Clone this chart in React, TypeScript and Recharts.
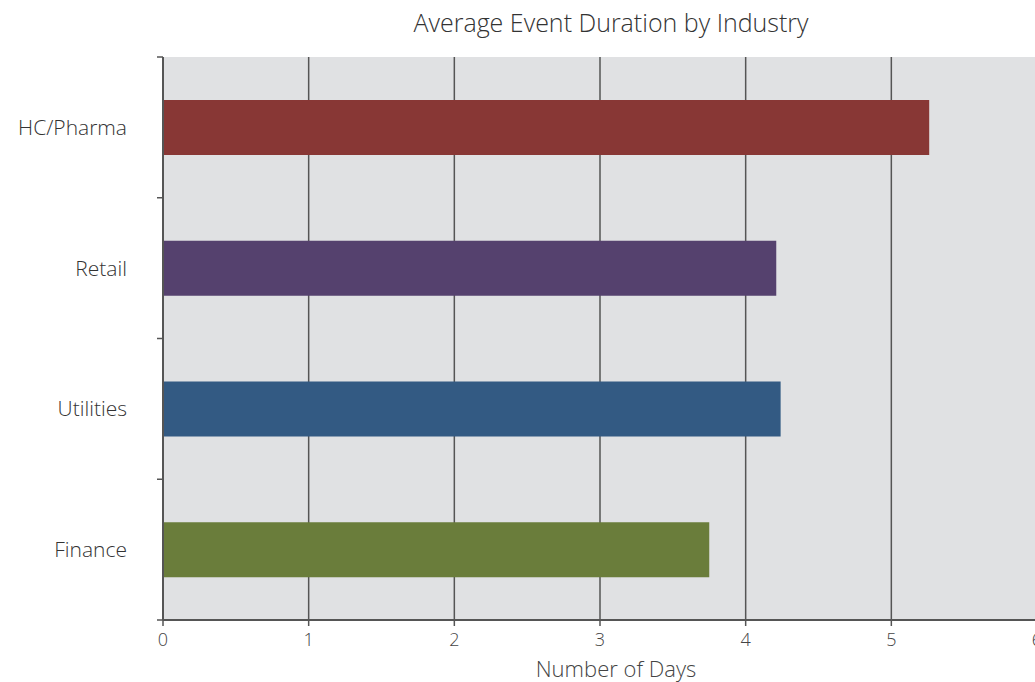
import React from "react";
import { BarChart, Bar, XAxis, YAxis, CartesianGrid, Cell, Label } from "recharts";

const industries = ["HC/Pharma", "Retail", "Utilities", "Finance"];
const days = [5.26, 4.21, 4.24, 3.75];
const barColors = ["#883735", "#55416e", "#335a83", "#6a7d3b"];
const xTicks = [0, 1, 2, 3, 4, 5, 6];
const boundaryTicks = [0, 1, 2, 3, 4];

const data = industries.map((name, i) => ({ name, days: days[i] }));

const FONT = "'Open Sans', 'Noto Sans', sans-serif";
const AXIS = "#555";

const XTick = (props: any) => {
  const { x, y, payload } = props;
  return (
    <text
      x={x}
      y={y}
      dy={16}
      textAnchor="middle"
      fill="#444"
      fontSize={18}
      fontWeight={300}
      fontFamily={FONT}
    >
      {payload.value}
    </text>
  );
};

const categoryIndex = (d: any) => industries.indexOf(d.name) + 0.5;

export default function App() {
  return (
    <div
      style={{
        position: "fixed",
        left: 0,
        top: 0,
        width: 1035,
        height: 682,
        overflow: "hidden",
        background: "#fff",
        fontFamily: FONT,
      }}
    >
      <div
        style={{
          position: "absolute",
          left: 0,
          width: 1222,
          top: 5,
          textAlign: "center",
          fontSize: 25,
          fontWeight: 300,
          color: "#333",
          fontFamily: FONT,
        }}
      >
        Average Event Duration by Industry
      </div>
      <BarChart
        width={1100}
        height={682}
        data={data}
        layout="vertical"
        margin={{ top: 57, right: 63, bottom: 0, left: 0 }}
        barSize={55}
      >
        <CartesianGrid
          horizontal={false}
          fill="#e0e1e3"
          fillOpacity={1}
          stroke={AXIS}
          strokeWidth={1.5}
        />
        <XAxis
          type="number"
          domain={[0, 6]}
          ticks={xTicks}
          interval={0}
          height={62}
          tickSize={6}
          axisLine={{ stroke: AXIS, strokeWidth: 2 }}
          tickLine={{ stroke: AXIS, strokeWidth: 1.5 }}
          tick={<XTick />}
          tickMargin={4}
        >
          <Label
            value="Number of Days"
            position="insideBottom"
            offset={5}
            dx={16}
            style={{ fill: "#444", fontSize: 22, fontFamily: FONT, fontWeight: 300 }}
          />
        </XAxis>
        <XAxis
          xAxisId="top"
          orientation="top"
          type="number"
          domain={[0, 6]}
          height={0}
          tick={false}
          tickLine={false}
          axisLine={{ stroke: AXIS, strokeWidth: 2 }}
        />
        <YAxis
          type="number"
          dataKey={categoryIndex}
          scale="linear"
          domain={[0, 4]}
          allowDataOverflow={true}
          ticks={boundaryTicks}
          interval={0}
          width={1}
          tickFormatter={() => ""}
          tickSize={6}
          tickLine={{ stroke: AXIS, strokeWidth: 1.5 }}
          axisLine={{ stroke: AXIS, strokeWidth: 2 }}
        />
        <YAxis
          yAxisId="cat"
          type="category"
          dataKey="name"
          width={162}
          axisLine={false}
          tickLine={false}
          tickMargin={29}
          fontSize={21}
          tick={{ fill: "#333", fontSize: 21, fontFamily: FONT, fontWeight: 300 }}
        />
        <Bar dataKey="days" yAxisId="cat" isAnimationActive={false}>
          {data.map((d, i) => (
            <Cell key={d.name} fill={barColors[i]} />
          ))}
        </Bar>
      </BarChart>
    </div>
  );
}
